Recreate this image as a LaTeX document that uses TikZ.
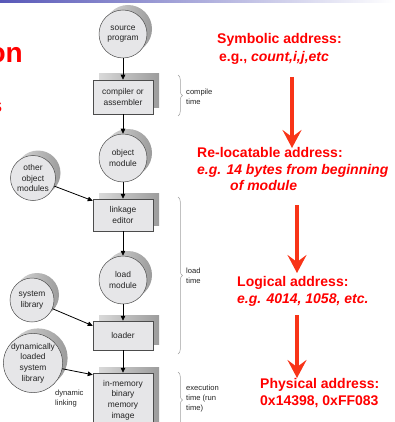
\documentclass[tikz,border=0pt]{standalone}
\usepackage{fontspec}
\setmainfont{Liberation Sans}
\usetikzlibrary{arrows.meta,decorations.pathreplacing,shadows}
\definecolor{redtxt}{RGB}{255,0,0}
\definecolor{redarr}{RGB}{248,52,24}
\definecolor{barblue}{RGB}{88,88,184}
\definecolor{nodefill}{RGB}{230,230,232}
\definecolor{labelgray}{RGB}{35,35,35}
\begin{document}
\begin{tikzpicture}[x=1pt,y=-1pt,
  shad/.style={general shadow={shadow xshift=#1, shadow yshift=#1, left color=gray!30, right color=gray!78}},
  disc/.style={circle, draw=black!70, line width=0.5pt, fill=nodefill, minimum size=#1, inner sep=0pt,
     font=\fontsize{8.4}{10.6}\selectfont, align=center, text=labelgray, shad=5pt},
  stepbox/.style={rectangle, draw=black!70, line width=0.5pt, fill=nodefill, minimum width=60pt, minimum height=#1,
     inner sep=0pt, font=\fontsize{8.4}{10.6}\selectfont, align=center, text=labelgray, shad=6pt},
  lbl/.style={font=\fontsize{7.6}{10.4}\selectfont, text=labelgray, align=left, inner sep=0pt, anchor=west},
  blk/.style={-{Triangle[length=5pt,width=4.5pt]}, line width=0.8pt, black},
  bracestyle/.style={decorate, decoration={brace, amplitude=4.5pt}, draw=gray!75, line width=0.5pt},
  redlbl/.style={font=\fontsize{14}{#1}\selectfont\bfseries, text=redtxt, align=left, inner sep=0pt, anchor=west},
  redarrow/.style={-{Stealth[length=18pt,width=19pt,inset=7pt]}, line width=4pt, draw=redarr}
]
\useasboundingbox (0,0) rectangle (394,422);
% top bar
\shade[left color=barblue, right color=white] (0,0) rectangle (394,2.5);
% title fragments (cut off at the left edge, as in the reference)
\node[anchor=base east, font=\fontsize{28}{30}\selectfont\bfseries, text=redtxt, inner sep=0pt] (titleon) at (23,63) {on};
\node[anchor=base east, font=\fontsize{20}{22}\selectfont\bfseries, text=redtxt, inner sep=0pt] (titles) at (2.5,113) {s};

% main column
\node[disc=48pt] (src) at (123,34) {source\\program};
\node[stepbox=34pt] (comp) at (123,97) {compiler or\\assembler};
\node[disc=48pt] (obj) at (123,158) {object\\module};
\node[stepbox=32pt] (link) at (123,215) {linkage\\editor};
\node[disc=48pt] (load) at (123,280) {load\\module};
\node[stepbox=29pt] (loader) at (123,335.5) {loader};
\node[stepbox=54pt] (mem) at (123,400) {in-memory\\binary\\memory\\image};

% side inputs
\node[disc=45pt] (other) at (33,178) {other\\object\\modules};
\node[disc=44pt] (syslib) at (32,300) {system\\library};
\node[disc=58pt] (dyn) at (33,363) {dynamically\\loaded\\system\\library};

% arrows
\draw[blk] (src) -- (comp);
\draw[blk] (comp) -- (obj);
\draw[blk] (obj) -- (link);
\draw[blk] (link) -- (load);
\draw[blk] (load) -- (loader);
\draw[blk] (loader) -- (mem);
\draw[blk] (other) -- ([yshift=-2pt]link.north west);
\draw[blk] (syslib) -- ([yshift=-5pt]loader.north west);
\draw[blk] (dyn) -- ([yshift=-2pt]mem.north west);

% braces and time labels
\draw[bracestyle] (178,75) -- (178,116);
\draw[bracestyle] (178,197) -- (178,354);
\draw[bracestyle] (178,372) -- (178,428);
\node[lbl] (tcomp) at (186,97) {compile\\time};
\node[lbl] (tload) at (186,276) {load\\time};
\node[lbl] (texec) at (186,398.5) {execution\\time (run\\time)};
\node[lbl] (tdyn) at (55,398.5) {dynamic\\linking};

% red address chain
\node[redlbl=18pt] (sym) at (217,49) {Symbolic address:\\\hspace*{2pt}e.g., \textit{count,i,j,etc}};
\node[redlbl=16.5pt] (reloc) at (197,169) {Re-locatable address:\\\textit{e.g. 14 bytes from beginning}\\\hspace*{33pt}\textit{of module}};
\node[redlbl=17pt] (logical) at (237,291.5) {Logical address:\\\textit{e.g. 4014, 1058, etc.}};
\node[redlbl=17pt] (physical) at (260,393.5) {Physical address:\\0x14398, 0xFF083};

\coordinate (r1a) at (292,77);
\coordinate (r1b) at (292,148);
\coordinate (r2a) at (297,205);
\coordinate (r2b) at (297,273);
\coordinate (r3a) at (297,315);
\coordinate (r3b) at (297,378);
\draw[redarrow] (r1a) -- (r1b);
\draw[redarrow] (r2a) -- (r2b);
\draw[redarrow] (r3a) -- (r3b);
\end{tikzpicture}
\end{document}
